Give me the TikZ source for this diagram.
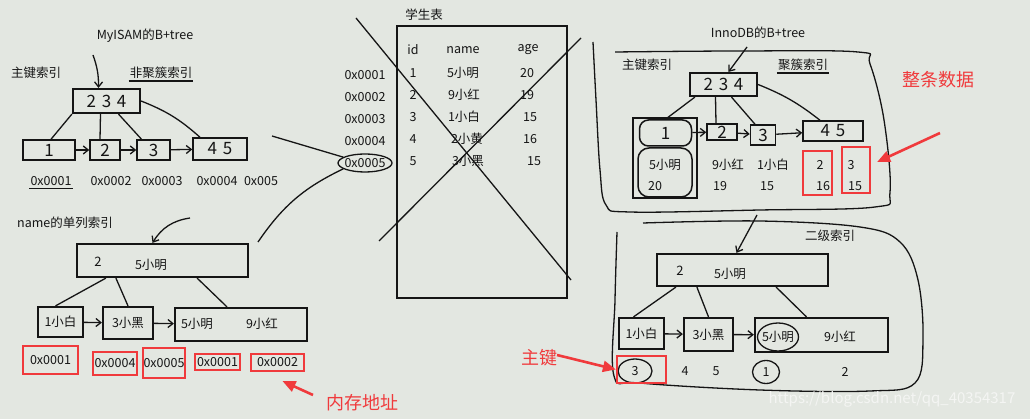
\documentclass[tikz,border=0pt]{standalone}
\usepackage{fontspec}
\setmainfont{Noto Sans CJK SC}
\usetikzlibrary{arrows.meta}

\definecolor{paper}{HTML}{E3E7E1}
\definecolor{ink}{HTML}{151515}
\definecolor{markred}{HTML}{F03A3C}
\definecolor{watermark}{HTML}{F4F5F3}
\tikzstyle{txt}=[inner sep=1pt, text=ink, font=\fontsize{12.5}{14}\selectfont]
\tikzstyle{hand}=[inner sep=0, text=ink, font=\fontsize{17}{18}\selectfont]
\tikzstyle{keybox}=[draw=ink, line width=2.2pt, inner sep=0]
\tikzstyle{leafbox}=[draw=ink, line width=1.5pt, inner sep=0]
\tikzstyle{redbox}=[draw=markred, line width=2.2pt, inner sep=0, text=ink, font=\fontsize{12.5}{14}\selectfont]
\tikzstyle{note}=[inner sep=1pt, text=markred, font=\fontsize{18}{20}\selectfont]
\tikzstyle{pen}=[draw=ink, line width=1.3pt]
\tikzstyle{pointer}=[draw=markred, line width=2.6pt, -{Triangle[length=13pt, width=11pt]}]

\begin{document}
\begin{tikzpicture}[x=1pt, y=-1pt, >={Straight Barb[length=5pt, width=8pt]}]

\fill [paper] (0,0) rectangle (1030,419);
\useasboundingbox (0,0) rectangle (1030,419);

\node [txt] (mytitle) at (145,36) {MyISAM的B+tree};
\node [txt] (mypk) at (36,73) {主键索引};
\node [txt] (mync) at (161,73) {非聚簇索引};
\draw [pen] ([yshift=-1pt]mync.south west) -- ([yshift=-1pt]mync.south east);

\node [keybox, hand, minimum width=67pt, minimum height=24pt] (myroot) at (106.5,101) {2\,\,3\,\,4};
\coordinate (myin) at (93,55);
\draw [pen, ->] (myin) to [bend left=10] ([xshift=-8pt]myroot.north);

\node [leafbox, hand, minimum width=52pt, minimum height=20pt] (myl1) at (49,150) {1};
\node [leafbox, hand, minimum width=30pt, minimum height=20pt] (myl2) at (105,150) {2};
\node [leafbox, hand, minimum width=33pt, minimum height=20pt] (myl3) at (153.5,150) {3};
\node [leafbox, hand, minimum width=54pt, minimum height=22pt] (myl4) at (220,149) {4\,\,5};

\draw [pen] (myroot.south west) -- ([xshift=2pt]myl1.north);
\draw [pen] ([xshift=-6pt]myroot.south) -- ([xshift=-5pt]myl2.north);
\draw [pen] ([xshift=12pt]myroot.south) -- ([xshift=-12pt]myl3.north);
\draw [pen] (myroot.east) to [bend left=10] ([xshift=-20pt]myl4.north);
\draw [pen, ->] (myl1) -- (myl2);
\draw [pen, ->] (myl2) -- (myl3);
\draw [pen, ->] (myl3) -- (myl4);

\node [txt] (mya1) at (51,181) {0x0001};
\draw [pen] ([yshift=-2pt]mya1.south west) -- ([yshift=-2pt]mya1.south east);
\node [txt] (mya2) at (111,181) {0x0002};
\node [txt] (mya3) at (162,181) {0x0003};
\node [txt] (mya4) at (217,181) {0x0004};
\node [txt] (mya5) at (261,181) {0x005};

\node [txt] (nmtitle) at (65,223) {name的单列索引};
\node [keybox, minimum width=171pt, minimum height=33pt] (nmroot) at (162.5,260.5) {};
\node [txt] (nmrootkey) at (151,265) {5小明};
\node [hand, font=\fontsize{13}{14}\selectfont] (nmrootmark) at (98,262) {2};
\coordinate (nmin) at (190,218);
\draw [pen, ->] (nmin) to [bend right=25] ([xshift=-10pt]nmroot.north);

\node [keybox, txt, minimum width=45pt, minimum height=30pt] (nml1) at (60.5,322) {1小白};
\node [keybox, txt, minimum width=50pt, minimum height=32pt] (nml2) at (128,323) {3小黑};
\node [keybox, minimum width=132pt, minimum height=33pt] (nml3) at (241,324.5) {};
\node [txt] (nml3a) at (197,324) {5小明};
\node [txt] (nml3b) at (262,324) {9小红};

\draw [pen] ([xshift=30pt]nmroot.south west) -- ([xshift=-5pt]nml1.north);
\draw [pen] ([xshift=40pt]nmroot.south west) -- (nml2.north);
\draw [pen] ([xshift=-52pt]nmroot.south east) -- ([xshift=-14pt]nml3.north);
\draw [pen, ->] (nml1) -- (nml2);
\draw [pen, ->] (nml2) -- (nml3);

\node [redbox, minimum width=55pt, minimum height=28pt] (nmr1) at (50.5,360) {0x0001};
\node [redbox, minimum width=44pt, minimum height=23pt] (nmr2) at (115,363.5) {0x0004};
\node [redbox, minimum width=42pt, minimum height=30pt] (nmr3) at (164,363) {0x0005};
\node [redbox, minimum width=45pt, minimum height=16pt] (nmr4) at (217.5,362) {0x0001};
\node [redbox, minimum width=53pt, minimum height=17pt] (nmr5) at (277.5,362.5) {0x0002};

\coordinate (memtail) at (313,395);
\draw [pointer] (memtail) -- ([xshift=5pt, yshift=-9pt]nmr5.south);
\node [note] (memnote) at (362,403) {内存地址};

\node [txt] (tbltitle) at (424,15) {学生表};
\node [keybox, minimum width=170pt, minimum height=272pt] (tbl) at (482,162) {};
\node [txt] (tbhid) at (413,50) {id};
\node [txt] (tbhname) at (463,50) {name};
\node [txt] (tbhage) at (528,50) {age};
\node [txt] (tbi1) at (413,73) {1};
\node [txt] (tbn1) at (463,73) {5小明};
\node [txt] (tbg1) at (527,73) {20};
\node [txt] (tbi2) at (413,95) {2};
\node [txt] (tbn2) at (464,95) {9小红};
\node [txt] (tbg2) at (527,95) {19};
\node [txt] (tbi3) at (413,117) {3};
\node [txt] (tbn3) at (464,117) {1小白};
\node [txt] (tbg3) at (530,117) {15};
\node [txt] (tbi4) at (413,139) {4};
\node [txt] (tbn4) at (467,139) {2小黄};
\node [txt] (tbg4) at (530,139) {16};
\node [txt] (tbi5) at (413,161) {5};
\node [txt] (tbn5) at (468,161) {3小黑};
\node [txt] (tbg5) at (534,161) {15};

\node [txt] (tba1) at (365,75) {0x0001};
\node [txt] (tba2) at (365,97) {0x0002};
\node [txt] (tba3) at (365,119) {0x0003};
\node [txt] (tba4) at (365,141) {0x0004};
\node [txt] (tba5) at (365,163) {0x0005};
\draw [pen] (tba5) ellipse [x radius=27, y radius=9];

\coordinate (crossnw) at (356,18);
\coordinate (crossse) at (571,280);
\coordinate (crossne) at (581,38);
\coordinate (crosssw) at (379,241);
\draw [pen] (crossnw) -- (crossse);
\draw [pen] (crossne) -- (crosssw);

\coordinate (myptr) at (272,136);
\draw [pen] (myptr) -- (tba5.north west);
\coordinate (nmptr) at (258,242);
\draw [pen] (nmptr) to [bend left=15] (tba5.south west);

\node [txt] (inntitle) at (758,33) {InnoDB的B+tree};
\draw [pen] plot [smooth, tension=0.6] coordinates {(593,42) (596,100) (600,170) (606,205) (630,212) (760,210) (875,207) (890,192) (884,120) (870,64) (858,52) (740,51) (615,52)};
\node [txt] (inpk) at (647,65) {主键索引};
\node [txt] (incl) at (803,65) {聚簇索引};
\draw [pen] ([yshift=-1pt]incl.south west) -- ([yshift=-1pt]incl.south east);

\node [keybox, hand, minimum width=67pt, minimum height=23pt] (inroot) at (723.5,84.5) {2\,\,3\,\,4};
\coordinate (inin) at (747,47);
\draw [pen, ->] (inin) -- ([xshift=5pt]inroot.north);

\node [leafbox, minimum width=64pt, minimum height=80pt] (inrow) at (665,158) {};
\node [leafbox, hand, rounded corners=9pt, minimum width=52pt, minimum height=26pt] (inl1) at (665.5,133) {1};
\node [leafbox, rounded corners=11pt, minimum width=54pt, minimum height=49pt] (indata) at (665,172.5) {};
\node [leafbox, hand, minimum width=30pt, minimum height=16pt] (inl2) at (722,132) {2};
\node [leafbox, hand, minimum width=25pt, minimum height=20pt] (inl3) at (763,135) {3};
\node [leafbox, hand, minimum width=60pt, minimum height=20pt] (inl4) at (833,131) {4\,\,5};

\draw [pen] ([xshift=6pt]inroot.south west) -- (inl1.north);
\draw [pen] ([xshift=-8pt]inroot.south) -- ([xshift=-6pt]inl2.north);
\draw [pen] ([xshift=8pt]inroot.south) -- ([xshift=-8pt]inl3.north);
\draw [pen] (inroot.east) to [bend left=8] ([xshift=-13pt]inl4.north);
\draw [pen, ->] (inl1) -- (inl2);
\draw [pen, ->] (inl2) -- (inl3);
\draw [pen, ->] (inl3) -- (inl4);

\node [txt] (ind1a) at (665,165) {5小明};
\node [txt] (ind1b) at (655,186) {20};
\node [txt] (ind2a) at (728,165) {9小红};
\node [txt] (ind2b) at (720,186) {19};
\node [txt] (ind3a) at (773,165) {1小白};
\node [txt] (ind3b) at (767,186) {15};
\node [txt] (ind4a) at (820,165) {2};
\node [txt] (ind4b) at (823,186) {16};
\node [txt] (ind5a) at (851,165) {3};
\node [txt] (ind5b) at (855,186) {15};

\node [redbox, minimum width=29pt, minimum height=44pt] (inr1) at (817.5,173) {};
\node [redbox, minimum width=28pt, minimum height=46pt] (inr2) at (856,170) {};
\node [note] (rownote) at (938,80) {整条数据};
\coordinate (rowtail) at (940,133);
\draw [pointer] (rowtail) -- ([xshift=6pt, yshift=8pt]inr2.east);

\draw [pen] plot [smooth, tension=0.6] coordinates {(643,223) (760,221) (860,227) (900,242) (918,280) (923,340) (915,383) (870,391) (760,390) (640,383) (614,376) (615,300) (617,232)};
\node [txt] (sectitle) at (830,236) {二级索引};
\node [keybox, minimum width=171pt, minimum height=32pt] (secroot) at (742.5,270) {};
\node [txt] (secrootkey) at (730,274) {5小明};
\node [hand, font=\fontsize{13}{14}\selectfont] (secrootmark) at (680,271) {2};
\coordinate (secin) at (757,215);
\draw [pen, ->] (secin) -- ([xshift=-6pt]secroot.north);

\node [keybox, txt, minimum width=45pt, minimum height=31pt] (secl1) at (641.5,333.5) {1小白};
\node [keybox, txt, minimum width=49pt, minimum height=33pt] (secl2) at (708.5,334.5) {3小黑};
\node [keybox, minimum width=133pt, minimum height=34pt] (secl3) at (821.5,335) {};
\node [txt] (secl3a) at (778,337) {5小明};
\node [txt] (secl3b) at (840,337) {9小红};
\draw [pen] (secl3a) ellipse [x radius=20.5, y radius=14];

\draw [pen] ([xshift=20pt]secroot.south west) -- ([xshift=-8pt]secl1.north);
\draw [pen] ([xshift=41pt]secroot.south west) -- (secl2.north);
\draw [pen] ([xshift=-53pt]secroot.south east) -- ([xshift=-15pt]secl3.north);
\draw [pen, ->] (secl1) -- (secl2);
\draw [pen, ->] (secl2) -- (secl3);

\node [txt] (secp1) at (635,371) {3};
\draw [pen] (secp1) ellipse [x radius=17, y radius=12];
\node [txt] (secp2) at (685,371) {4};
\node [txt] (secp3) at (716,371) {5};
\node [txt] (secp4) at (766,372) {1};
\draw [pen] (secp4) ellipse [x radius=13.5, y radius=11.5];
\node [txt] (secp5) at (845,372) {2};
\node [redbox, minimum width=49pt, minimum height=27pt] (secr) at (641.5,369.5) {};
\node [note] (pknote) at (539,358) {主键};
\coordinate (pktail) at (557,355);
\draw [pointer] (pktail) -- (secr.west);

\node [text=watermark, inner sep=0, font=\fontsize{15}{16}\selectfont] (csdnmark) at (892,399) {https://blog.csdn.net/qq\_40354317};

\end{tikzpicture}
\end{document}
